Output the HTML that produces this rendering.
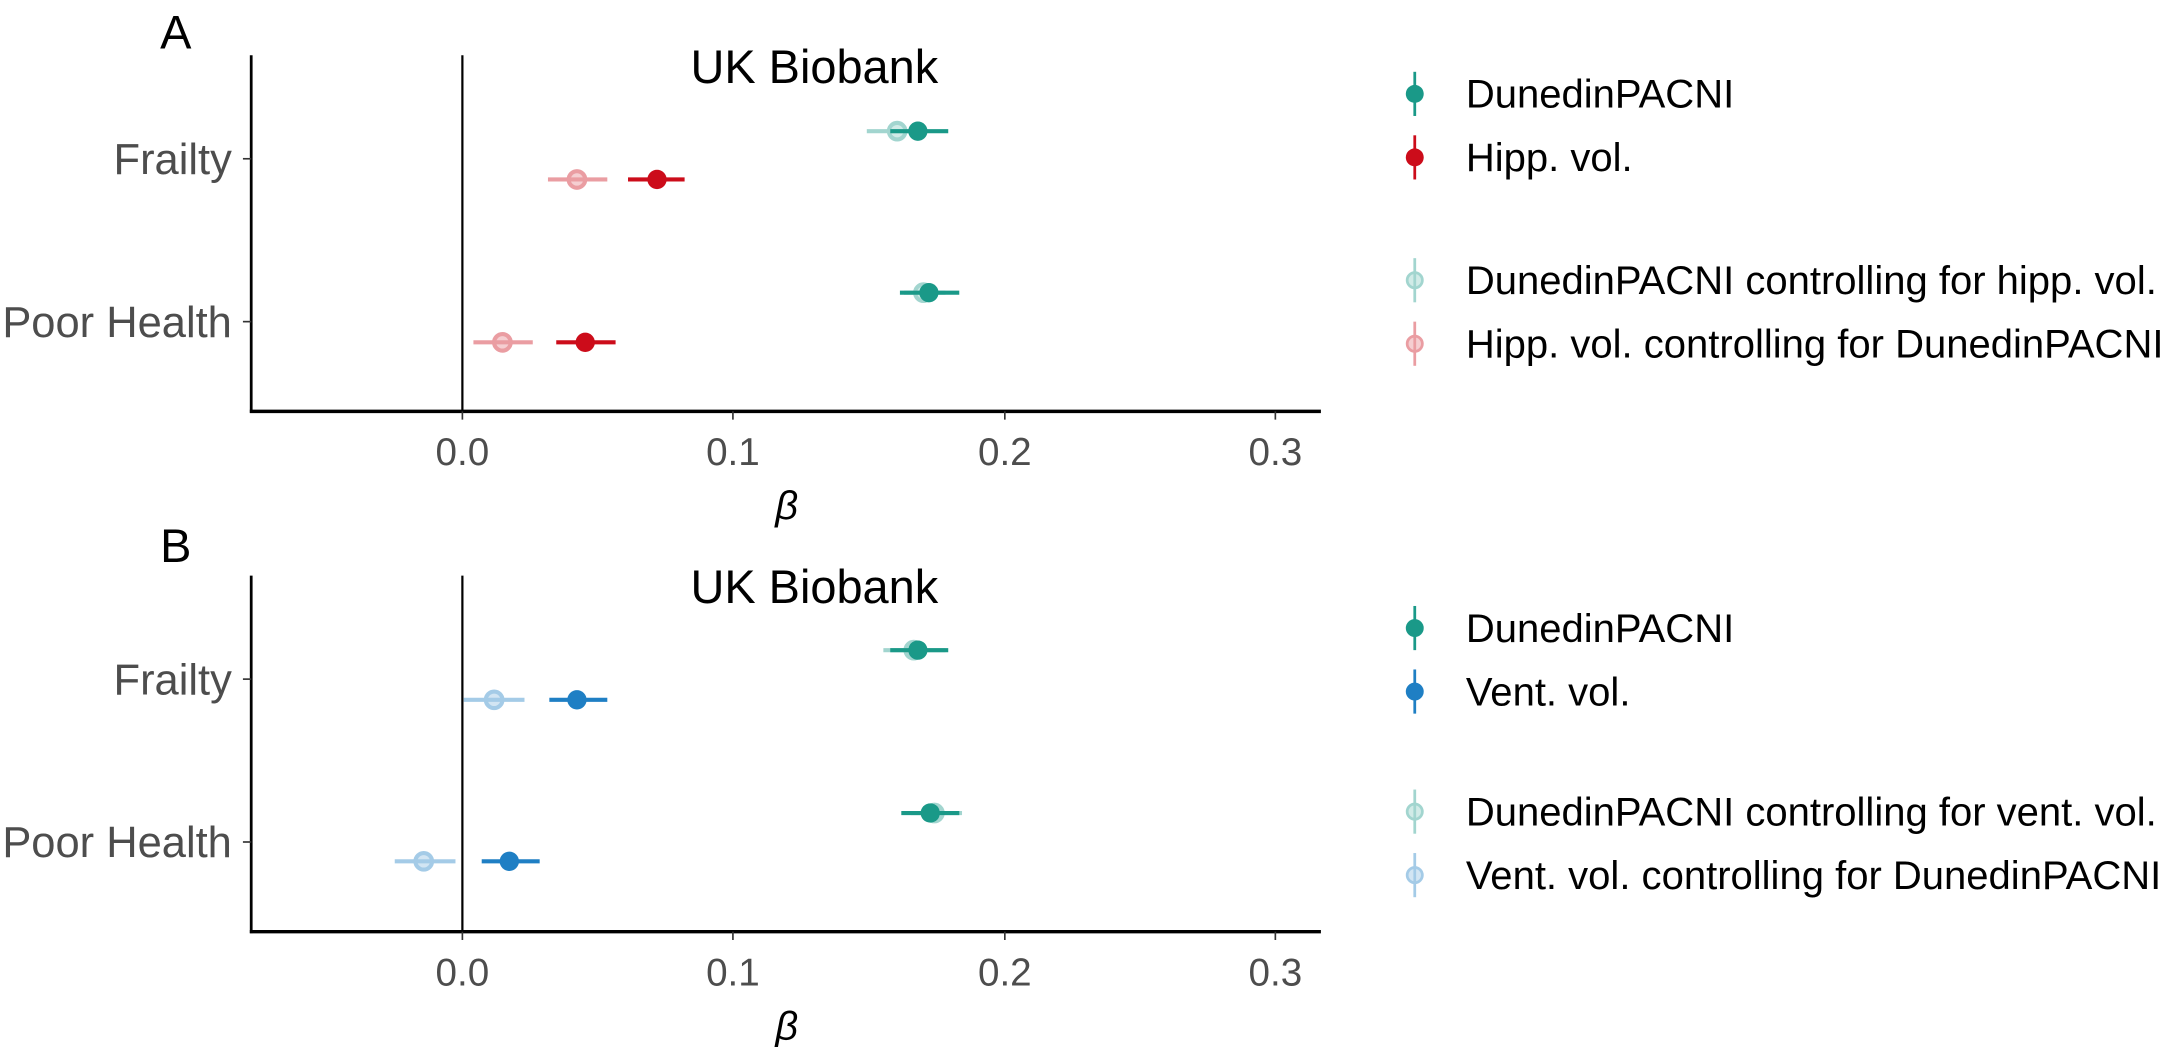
<!DOCTYPE html>
<html><head><meta charset="utf-8"><style>html,body{margin:0;padding:0;background:#fff}svg{display:block}</style></head>
<body>
<svg width="2167" height="1047" viewBox="0 0 1570 758.5" xmlns="http://www.w3.org/2000/svg" font-family="Liberation Sans, sans-serif">
<defs>
<g id="axes">
<line x1="182" y1="40" x2="182" y2="299" stroke="#000" stroke-width="2"/>
<line x1="181" y1="298" x2="957" y2="298" stroke="#000" stroke-width="2.5"/>
<line x1="335" y1="40" x2="335" y2="298" stroke="#000" stroke-width="1.6"/>
<g stroke="#333" stroke-width="1.2">
<line x1="176" y1="115" x2="182" y2="115"/><line x1="176" y1="233" x2="182" y2="233"/>
<line x1="335" y1="298" x2="335" y2="304"/><line x1="531" y1="298" x2="531" y2="304"/><line x1="728" y1="298" x2="728" y2="304"/><line x1="924" y1="298" x2="924" y2="304"/>
</g>
<g fill="#4d4d4d">
<g font-size="31.5" text-anchor="end">
<text x="168" y="126">Frailty</text>
<text x="168" y="244">Poor Health</text>
</g>
<g text-anchor="middle" font-size="28"><text x="335" y="337">0.0</text><text x="531" y="337">0.1</text><text x="728" y="337">0.2</text><text x="924" y="337">0.3</text></g>
</g>
<text x="570" y="376" font-size="29" font-style="italic" text-anchor="middle">β</text>
<text x="590" y="60" font-size="34" text-anchor="middle">UK Biobank</text>
</g>
</defs>

<text x="116" y="35" font-size="34">A</text>
<use href="#axes"/>
<text x="116" y="407" font-size="34">B</text>
<use href="#axes" transform="translate(0,377)"/>

<!-- Panel A points -->
<g stroke-width="3">
<g opacity="0.4"><line x1="628" y1="95" x2="665" y2="95" stroke="#1a9988"/><circle cx="650" cy="95" r="6" fill="#1a9988" fill-opacity="0.5" stroke="#1a9988"/></g>
<line x1="645" y1="95" x2="687" y2="95" stroke="#1a9988"/><circle cx="665" cy="95" r="7" fill="#1a9988"/>
<g opacity="0.4"><line x1="397" y1="130" x2="440" y2="130" stroke="#cc0c1a"/><circle cx="418" cy="130" r="6" fill="#cc0c1a" fill-opacity="0.5" stroke="#cc0c1a"/></g>
<line x1="455" y1="130" x2="496" y2="130" stroke="#cc0c1a"/><circle cx="476" cy="130" r="7" fill="#cc0c1a"/>
<g opacity="0.4"><line x1="655" y1="212" x2="685" y2="212" stroke="#1a9988"/><circle cx="669" cy="212" r="6" fill="#1a9988" fill-opacity="0.5" stroke="#1a9988"/></g>
<line x1="652" y1="212" x2="695" y2="212" stroke="#1a9988"/><circle cx="673" cy="212" r="7" fill="#1a9988"/>
<g opacity="0.4"><line x1="343" y1="248" x2="386" y2="248" stroke="#cc0c1a"/><circle cx="364" cy="248" r="6" fill="#cc0c1a" fill-opacity="0.5" stroke="#cc0c1a"/></g>
<line x1="403" y1="248" x2="446" y2="248" stroke="#cc0c1a"/><circle cx="424" cy="248" r="7" fill="#cc0c1a"/>
</g>

<!-- Panel B points -->
<g stroke-width="3">
<g opacity="0.4"><line x1="640" y1="471" x2="685" y2="471" stroke="#1a9988"/><circle cx="662" cy="471" r="6" fill="#1a9988" fill-opacity="0.5" stroke="#1a9988"/></g>
<line x1="645" y1="471" x2="687" y2="471" stroke="#1a9988"/><circle cx="665" cy="471" r="7" fill="#1a9988"/>
<g opacity="0.4"><line x1="336" y1="507" x2="380" y2="507" stroke="#1f7fc4"/><circle cx="358" cy="507" r="6" fill="#1f7fc4" fill-opacity="0.5" stroke="#1f7fc4"/></g>
<line x1="398" y1="507" x2="440" y2="507" stroke="#1f7fc4"/><circle cx="418" cy="507" r="7" fill="#1f7fc4"/>
<g opacity="0.4"><line x1="660" y1="589" x2="697" y2="589" stroke="#1a9988"/><circle cx="677" cy="589" r="6" fill="#1a9988" fill-opacity="0.5" stroke="#1a9988"/></g>
<line x1="653" y1="589" x2="695" y2="589" stroke="#1a9988"/><circle cx="674" cy="589" r="7" fill="#1a9988"/>
<g opacity="0.4"><line x1="286" y1="624" x2="330" y2="624" stroke="#1f7fc4"/><circle cx="307" cy="624" r="6" fill="#1f7fc4" fill-opacity="0.5" stroke="#1f7fc4"/></g>
<line x1="349" y1="624" x2="391" y2="624" stroke="#1f7fc4"/><circle cx="369" cy="624" r="7" fill="#1f7fc4"/>
</g>

<!-- Legends -->
<g font-size="29" fill="#000" stroke-width="2">
<line x1="1025" y1="52" x2="1025" y2="84" stroke="#1a9988"/><circle cx="1025" cy="68" r="6.5" fill="#1a9988"/>
<text x="1062" y="78">DunedinPACNI</text>
<line x1="1025" y1="98" x2="1025" y2="130" stroke="#cc0c1a"/><circle cx="1025" cy="114" r="6.5" fill="#cc0c1a"/>
<text x="1062" y="124">Hipp. vol.</text>
<g opacity="0.4"><line x1="1025" y1="187" x2="1025" y2="219" stroke="#1a9988"/><circle cx="1025" cy="203" r="5.5" fill="#1a9988" fill-opacity="0.5" stroke="#1a9988"/></g>
<text x="1062" y="213">DunedinPACNI controlling for hipp. vol.</text>
<g opacity="0.4"><line x1="1025" y1="233" x2="1025" y2="265" stroke="#cc0c1a"/><circle cx="1025" cy="249" r="5.5" fill="#cc0c1a" fill-opacity="0.5" stroke="#cc0c1a"/></g>
<text x="1062" y="259">Hipp. vol. controlling for DunedinPACNI</text>

<line x1="1025" y1="439" x2="1025" y2="471" stroke="#1a9988"/><circle cx="1025" cy="455" r="6.5" fill="#1a9988"/>
<text x="1062" y="465">DunedinPACNI</text>
<line x1="1025" y1="485" x2="1025" y2="517" stroke="#1f7fc4"/><circle cx="1025" cy="501" r="6.5" fill="#1f7fc4"/>
<text x="1062" y="511">Vent. vol.</text>
<g opacity="0.4"><line x1="1025" y1="572" x2="1025" y2="604" stroke="#1a9988"/><circle cx="1025" cy="588" r="5.5" fill="#1a9988" fill-opacity="0.5" stroke="#1a9988"/></g>
<text x="1062" y="598">DunedinPACNI controlling for vent. vol.</text>
<g opacity="0.4"><line x1="1025" y1="618" x2="1025" y2="650" stroke="#1f7fc4"/><circle cx="1025" cy="634" r="5.5" fill="#1f7fc4" fill-opacity="0.5" stroke="#1f7fc4"/></g>
<text x="1062" y="644">Vent. vol. controlling for DunedinPACNI</text>
</g>
</svg>
</body></html>
